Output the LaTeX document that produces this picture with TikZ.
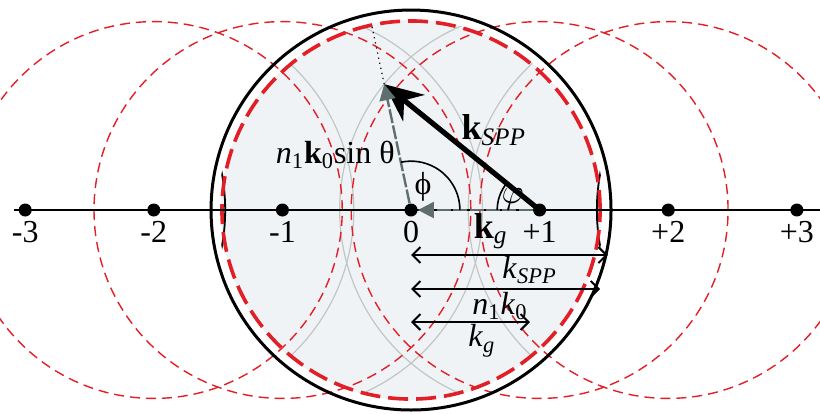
\documentclass[tikz,border=0pt]{standalone}
\usepackage{fontspec}
\setmainfont{Liberation Serif}
\usepackage{tikz}
\usetikzlibrary{arrows.meta, calc}
\definecolor{spotfill}{RGB}{240,243,245}
\definecolor{ringred}{RGB}{226,30,38}
\definecolor{ringgray}{RGB}{192,198,198}
\definecolor{vecgray}{RGB}{95,110,110}
\tikzset{
  lbl/.style={font=\fontsize{16}{19}\selectfont, inner sep=0pt},
  order/.style={circle, fill=black, inner sep=0pt, minimum size=6.5pt},
  ring/.style={ringred, line width=0.7pt, dash pattern=on 5pt off 3pt},
  bigring/.style={ringred, line width=1.8pt, dash pattern=on 10pt off 4pt},
  ghost/.style={ringgray, line width=0.6pt},
  span/.style={{Straight Barb[length=4pt,width=8pt]}-{Straight Barb[length=4pt,width=8pt]}, line width=1pt},
}

\begin{document}
\begin{tikzpicture}[
  x=64.3pt, y=64.3pt,
  vec/.style={-{Stealth[length=19pt,width=17pt]}, line width=2.6pt},
  gvec/.style={vecgray, line width=1.2pt, dash pattern=on 7pt off 1.2pt, -{Triangle[length=8pt,width=8pt]}}
]
  \useasboundingbox (-3.196,-1.579) rectangle (3.180,1.633);
  \coordinate (o) at (0,0);
  \coordinate (q) at (1,0);

  \fill[spotfill] (o) circle (1.48);
  \begin{scope}
    \clip (o) circle (1.48);
    \foreach \c in {-2,-1,1,2}
      \draw[ghost] (\c,0) circle (1.555);
  \end{scope}
  \begin{scope}
    \clip (o) circle (1.50);
    \foreach \c in {-3,3}
      \draw[line width=0.9pt] (\c,0) circle (1.555);
  \end{scope}
  \foreach \c in {-2,-1,1,2}
    \draw[ring] (\c,0) circle (1.465);
  \draw[bigring] (o) circle (1.47);
  \draw[line width=1.5pt] (o) circle (1.555);

  \coordinate (axl) at (-3.09,0);
  \coordinate (axr) at (3.18,0);
  \draw[line width=1pt] (axl) -- (axr);
  \foreach \n/\t in {-3/-3, -2/-2, -1/-1, 0/0, 1/+1, 2/+2, 3/+3} {
    \node[order] (p\n) at (\n,0) {};
    \node[lbl, anchor=base] (t\n) at (\n,-0.249) {\t};
  }

  \coordinate (tip) at ($(q)+(141:1.555)$);
  \coordinate (ray) at ($(o)!1.479!(tip)$);
  \draw[dotted, line width=0.6pt] (tip) -- (ray);
  \draw[vec] (q) -- (tip);
  \draw[gvec] (p0) -- (tip);
  \draw[gvec] (p1) -- (p0);
  \draw[line width=0.8pt] ($(o)+(0.38,0)$) arc[start angle=0, end angle=102, radius=0.38];
  \draw[line width=0.8pt] ($(q)+(141:0.33)$) arc[start angle=141, end angle=180, radius=0.33];

  \node[lbl] (phi) at (0.093,0.18) {ϕ};
  \node[lbl] (vphi) at (0.79,0.085) {$\varphi$};
  \node[lbl, anchor=base west] (kspp) at (0.39,0.545) {\fontsize{18}{20}\selectfont\textbf{k}\textsubscript{\textit{SPP}}};
  \node[lbl, anchor=base east] (nsin) at (-0.124,0.365) {\textit{n}\textsubscript{1}\textbf{k}\textsubscript{0}sin θ};
  \node[lbl, anchor=base west] (kg) at (0.485,-0.218) {\fontsize{18}{20}\selectfont\textbf{k}\textsubscript{\textit{g}}};

  \coordinate (a1) at (0,-0.35);   \coordinate (b1) at (1.53,-0.35);
  \coordinate (a2) at (0,-0.614);  \coordinate (b2) at (1.47,-0.614);
  \coordinate (a3) at (0,-0.871);  \coordinate (b3) at (0.925,-0.871);
  \draw[span] (a1) -- (b1);
  \draw[span] (a2) -- (b2);
  \draw[span] (a3) -- (b3);
  \node[lbl, anchor=base west] (lspp) at (0.708,-0.529) {\textit{k}\textsubscript{\textit{SPP}}};
  \node[lbl, anchor=base west] (lnk) at (0.474,-0.809) {\textit{n}\textsubscript{1}\textit{k}\textsubscript{0}};
  \node[lbl, anchor=base west] (lkg) at (0.443,-1.065) {\textit{k}\textsubscript{\textit{g}}};
\end{tikzpicture}
\end{document}
